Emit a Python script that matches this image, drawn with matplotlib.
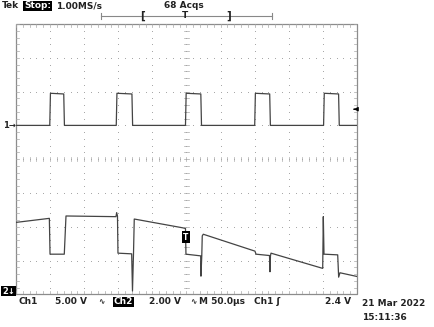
import numpy as np
import matplotlib.pyplot as plt

W, H = 435, 327

# Ch1 trace: time (us from left edge, 50 us/div), level in screen divisions
ch1_t_us = [0, 49.5, 50.5, 70, 71, 147, 148, 170, 171, 248.5, 249.5, 271, 272,
            350, 351, 372, 373, 451, 452, 473, 474, 500]
ch1_div = [1.0, 1.0, 1.95, 1.93, 1.0, 1.0, 1.95, 1.93, 1.0, 1.0, 1.95, 1.93, 1.0,
           1.0, 1.95, 1.93, 1.0, 1.0, 1.95, 1.93, 1.0, 1.0]

# Ch2 trace
ch2_t_us = [0, 48.9, 49.9, 70.8, 73.3, 146.6, 147.6, 148.8, 149.5, 169.6, 170.8,
            172.3, 173.4, 244.4, 248.5, 249.2, 270.8, 271.2, 272.4, 273.1, 274.6,
            350.4, 351.9, 371.7, 372.4, 373.1, 373.9, 449.7, 450.6, 451.6, 471.7,
            473.1, 475, 500]
ch2_div = [-1.87, -1.75, -2.81, -2.81, -1.68, -1.70, -1.58, -1.68, -2.78, -2.80, -3.90,
           -2.78, -1.77, -2.03, -2.05, -2.81, -2.86, -3.46, -2.86, -2.27, -2.22,
           -2.72, -2.81, -2.85, -3.33, -2.86, -2.78, -3.23, -1.70, -2.81, -2.83,
           -3.49, -3.36, -3.47]

trig_level_div = 1.0 + 2.4 / 5.0

fig = plt.figure(figsize=(W / 100, H / 100), dpi=100)
ax = fig.add_axes([16 / W, 1 - 294.4 / H, 341 / W, 270.4 / H])
ax.set_xlim(0, 500)
ax.set_ylim(-4, 4)
ax.axis('off')

grid_c = '#a8a8a8'
# dotted graticule
for k in range(1, 10):
    yy = np.arange(-4, 4.01, 0.2)
    ax.plot(np.full_like(yy, k * 50), yy, ls='none', marker='s', ms=0.7, color=grid_c, mew=0)
for k in range(-3, 4):
    xx = np.arange(0, 500.1, 10)
    ax.plot(xx, np.full_like(xx, k), ls='none', marker='s', ms=0.7, color=grid_c, mew=0)
# center axes ticks
for v in np.arange(-4, 4.01, 0.2):
    ax.plot([247, 253], [v, v], color=grid_c, lw=0.5)
for v in np.arange(0, 500.1, 10):
    ax.plot([v, v], [-0.06, 0.06], color=grid_c, lw=0.5)
# border + ticks
ax.plot([0, 500, 500, 0, 0], [-4, -4, 4, 4, -4], color='#8c8c8c', lw=0.9, clip_on=False)
for v in np.arange(0, 500.1, 10):
    ax.plot([v, v], [4, 3.9], color=grid_c, lw=0.5)
    ax.plot([v, v], [-4, -3.9], color=grid_c, lw=0.5)
for v in np.arange(-4, 4.01, 0.2):
    ax.plot([0, 5], [v, v], color=grid_c, lw=0.5)
    ax.plot([495, 500], [v, v], color=grid_c, lw=0.5)

# traces
ax.plot(ch1_t_us, ch1_div, color='#444444', lw=0.9)
ax.plot(ch2_t_us, ch2_div, color='#444444', lw=0.9)

fnt = dict(family='DejaVu Sans', weight='bold', fontsize=6.5, color='#222222')


def px(x, y):
    return x / W, 1 - y / H


def txt(x, y, s, inv=False, **kw):
    opts = dict(fnt)
    opts.update(kw)
    if inv:
        opts['color'] = 'white'
        opts['bbox'] = dict(boxstyle='square,pad=0.1', fc='black', ec='none')
    fig.text(*px(x, y), s, ha='left', va='center', **opts)


# header
txt(2, 6, 'Tek')
txt(24, 6, 'Stop:', inv=True)
txt(56, 6, '1.00MS/s')
txt(164, 6, '68 Acqs')
fig.add_artist(plt.Line2D([101 / W, 272 / W], [1 - 16 / H] * 2, color='#888888', lw=0.8))
for xe in (101, 272):
    fig.add_artist(plt.Line2D([xe / W] * 2, [1 - 13 / H, 1 - 19 / H], color='#888888', lw=0.8))
fig.text(*px(143, 16), '[', ha='center', va='center', **dict(fnt, fontsize=7.5))
fig.text(*px(229, 16), ']', ha='center', va='center', **dict(fnt, fontsize=7.5))
fig.text(*px(185, 16), 'T', ha='center', va='center', **fnt)

# channel markers
txt(3, 126, '1\u2192', fontsize=6)
txt(2, 291, '2\u2193', inv=True, fontsize=6)
ax.annotate('', xy=(491, trig_level_div), xytext=(500, trig_level_div),
            arrowprops=dict(arrowstyle='-|>', color='black', lw=0.8, mutation_scale=6))
fig.text(*px(186, 237), 'T', ha='center', va='center', color='white', fontsize=5.5, weight='bold',
         bbox=dict(boxstyle='square,pad=0.2', fc='black', ec='none'))

# footer
txt(19, 302, 'Ch1')
txt(55, 302, '5.00 V')
txt(98, 302, '\u223f', fontsize=5.5)
txt(114, 302, 'Ch2', inv=True)
txt(149, 302, '2.00 V')
txt(190, 302, '\u223f', fontsize=5.5)
txt(199, 302, 'M 50.0\u00b5s')
txt(254, 302, 'Ch1 \u0283')
txt(325, 302, '2.4 V')
txt(362, 303, '21 Mar 2022')
txt(362, 317, '15:11:36')

fig.savefig('out.png', dpi=100, facecolor='white')
